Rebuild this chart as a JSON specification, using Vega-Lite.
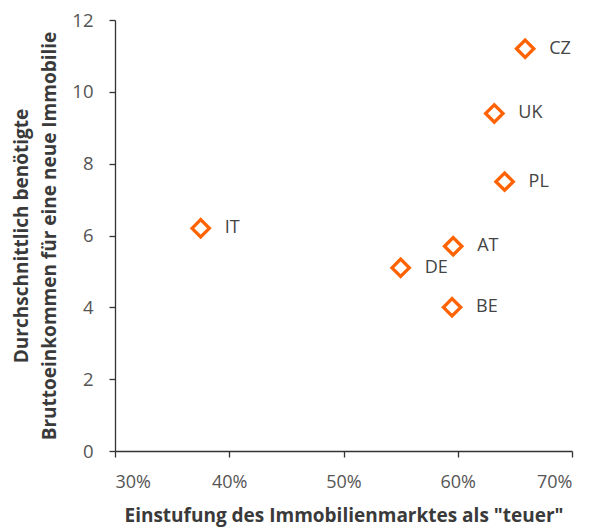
{
  "$schema": "https://vega.github.io/schema/vega-lite/v6.json",
  "width": 457,
  "height": 431,
  "autosize": {"type": "none"},
  "padding": {"left": 115, "top": 20, "right": 34, "bottom": 77},
  "background": "white",
  "config": {
    "view": {"stroke": null},
    "font": "Open Sans"
  },
  "data": {
    "values": [
      {"land": "CZ", "teuer": 0.659, "einkommen": 11.2},
      {"land": "UK", "teuer": 0.632, "einkommen": 9.4},
      {"land": "PL", "teuer": 0.641, "einkommen": 7.5},
      {"land": "AT", "teuer": 0.596, "einkommen": 5.7},
      {"land": "DE", "teuer": 0.550, "einkommen": 5.1},
      {"land": "BE", "teuer": 0.595, "einkommen": 4.0},
      {"land": "IT", "teuer": 0.375, "einkommen": 6.2}
    ]
  },
  "encoding": {
    "x": {
      "field": "teuer", "type": "quantitative",
      "scale": {"domain": [0.3, 0.7], "nice": false},
      "axis": {
        "title": "Einstufung des Immobilienmarktes als \"teuer\"",
        "format": ".0%", "values": [0.3, 0.4, 0.5, 0.6, 0.7],
        "grid": false, "domainColor": "#333333", "tickColor": "#333333",
        "domainWidth": 1.3, "tickWidth": 1.3,
        "tickSize": 6, "labelFontSize": 18, "labelColor": "#555555",
        "labelPadding": 16, "titleFontSize": 19, "titleFontWeight": "bold",
        "titleColor": "#3a3a3a", "titlePadding": 15
      }
    },
    "y": {
      "field": "einkommen", "type": "quantitative",
      "scale": {"domain": [0, 12], "nice": false},
      "axis": {
        "title": ["Durchschnittlich benötigte", "Bruttoeinkommen für eine neue Immobilie"],
        "values": [0, 2, 4, 6, 8, 10, 12],
        "grid": false, "domainColor": "#333333", "tickColor": "#333333",
        "domainWidth": 1.3, "tickWidth": 1.3,
        "tickSize": 6, "labelFontSize": 18.5, "labelColor": "#555555",
        "labelPadding": 16, "titleFontSize": 19, "titleFontWeight": "bold",
        "titleColor": "#3a3a3a", "titlePadding": 12, "titleLineHeight": 28
      }
    }
  },
  "layer": [
    {
      "mark": {"type": "point", "shape": "diamond", "size": 300, "strokeWidth": 3.3, "color": "#FF6200", "fill": "white", "filled": false, "opacity": 1}
    },
    {
      "mark": {"type": "text", "align": "left", "baseline": "middle", "dx": 24, "fontSize": 18, "color": "#444444"},
      "encoding": {"text": {"field": "land"}}
    }
  ]
}
